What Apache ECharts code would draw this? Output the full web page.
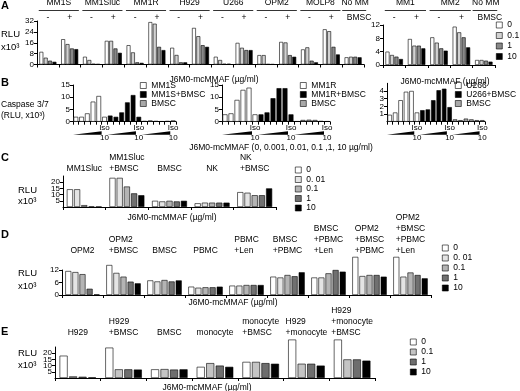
<!DOCTYPE html>
<html>
<head>
<meta charset="utf-8">
<title>J6M0-mcMMAF panels</title>
<script src="https://cdn.jsdelivr.net/npm/echarts@6/dist/echarts.min.js"></script>
<style>
  html, body { margin: 0; padding: 0; background: #fff; }
  #chart { width: 520px; height: 391px; }
</style>
</head>
<body>
<div id="chart"></div>
<script>
const FONT = '"Liberation Sans", Arial, sans-serif';

// ---- Panel A (RLU x10^3, 4 doses) ----
const aDoses = ['0', '0.1', '1', '10'];
const aColors = ['#ffffff', '#d2d2d2', '#888888', '#000000'];
const aLeftLines = ['MM1S', 'MM1Sluc', 'MM1R', 'H929', 'U266', 'OPM2', 'MOLP8'];
const aLeftGroups = ['MM1S -', 'MM1S +', 'MM1Sluc -', 'MM1Sluc +', 'MM1R -', 'MM1R +', 'H929 -', 'H929 +',
  'U266 -', 'U266 +', 'OPM2 -', 'OPM2 +', 'MOLP8 -', 'MOLP8 +', 'No MM'];
const aLeft0 = [9.3, 18.6, 5.7, 17.4, 14.2, 31.2, 12.3, 26.9, 5.7, 15.9, 6.9, 16.6, 11.1, 25.9, 5.3];
const aLeft01 = [5, 15, 3.3, 17.4, 8.9, 30, 7, 20.8, 3.3, 12.3, 6.9, 16.2, 12.6, 24.5, 5.7];
const aLeft1 = [2.8, 11.8, 0.5, 11.8, 1.6, 13, 1.6, 14.2, 0.5, 10.6, 0.3, 6.9, 2.8, 13, 5.7];
const aLeft10 = [2, 11.3, 0.3, 8.6, 1.2, 10.6, 1.6, 13, 0.5, 10.6, 0.2, 5.7, 1.6, 7.4, 5.3];
const aRightLines = ['MM1', 'MM2'];
const aRightGroups = ['MM1 -', 'MM1 +', 'MM2 -', 'MM2 +', 'No MM'];
const aRight0 = [4, 7.8, 8.3, 11.5, 1.5];
const aRight01 = [3, 5.8, 6.7, 9.8, 1.5];
const aRight1 = [2.5, 5.8, 5, 8.3, 1.3];
const aRight10 = [1.8, 5, 4.3, 5.3, 1];

// ---- Panel B (caspase 3/7, 0..10 ug/ml + isotype) ----
const bDoses = ['0', '0.001', '0.01', '0.1', '1', 'Iso 10'];
const bColors = ['#ffffff', '#000000', '#a8a8a8'];
const b1Names = ['MM1S', 'MM1S+BMSC', 'BMSC'];
const b1Cells = [2, 2, 3.4, 8.2, 10.5, 2];
const b1CellsBmsc = [2.5, 2, 3.8, 7.9, 10.9, 2];
const b1Bmsc = [0.3, 0.5, 0.3, 0.2, 0.3, 0.5];
const b2Names = ['MM1R', 'MM1R+BMSC', 'BMSC'];
const b2Cells = [3, 3.4, 8.9, 13, 13.9, 3];
const b2CellsBmsc = [3, 3.8, 9.6, 13.7, 13.7, 3];
const b2Bmsc = [0.2, 0.7, 0.8, 0.7, 0.3, 0.2];
const b3Names = ['U266', 'U266+BMSC', 'BMSC'];
const b3Cells = [0.9, 1.2, 2.8, 3.9, 4, 1.2];
const b3CellsBmsc = [1.5, 1.6, 2.8, 4.1, 4.3, 1.9];
const b3Bmsc = [0.3, 0.2, 0.4, 0.3, 0.2, 0.2];

// ---- Panel C ----
const cDoses = ['0', '0. 01', '0.1', '1', '10'];
const cdColors = ['#ffffff', '#e4e4e4', '#b4b4b4', '#707070', '#000000'];
const cGroups = ['MM1Sluc', 'MM1Sluc\n+BMSC', 'BMSC', 'NK', 'NK\n+BMSC'];
const c0 = [14.3, 23.5, 5, 3, 12];
const c001 = [14.3, 23.5, 4.5, 3.5, 11.5];
const c01 = [1.5, 16.5, 5, 3.5, 9.5];
const c1 = [0.4, 11, 4.5, 3.5, 9.5];
const c10 = [0.3, 9.5, 5, 3.5, 15];

// ---- Panel D ----
const dGroups = ['OPM2', 'OPM2\n+BMSC', 'BMSC', 'PBMC', 'PBMC\n+Len', 'BMSC\n+PBMC', 'BMSC\n+PBMC\n+Len',
  'OPM2\n+BMSC\n+PBMC', 'OPM2\n+BMSC\n+PBMC\n+Len'];
const d0 = [11.5, 14.4, 7, 4, 4.5, 8.8, 8.4, 18.3, 18.3];
const d001 = [11, 10.6, 6.5, 3.5, 4.5, 8.4, 8.4, 9.1, 8.8];
const d01 = [10, 8.8, 7.2, 3.7, 4.8, 9.6, 10.4, 9.6, 10.8];
const d1 = [3, 6.4, 6.5, 3.7, 4.8, 9, 12, 9.6, 9.6];
const d10 = [0.3, 5.6, 7, 4, 4.8, 10.9, 11.2, 8.8, 8];

// ---- Panel E ----
const eDoses = ['0', '0.1', '1', '10'];
const eColors = ['#ffffff', '#c4c4c4', '#6e6e6e', '#000000'];
const eGroups = ['H929', 'H929\n+BMSC', 'BMSC', 'monocyte', 'monocyte\n+BMSC', 'H929\n+monocyte', 'H929\n+monocyte\n+BMSC'];
const e0 = [18, 24.5, 7, 9, 13, 31, 31];
const e01 = [1.3, 7, 7.2, 12, 13, 11.5, 15];
const e1 = [1, 7, 6.8, 10, 12, 11.5, 15];
const e10 = [0.5, 6.8, 7, 9, 11.5, 10, 14];

const xLabel = 'J6M0-mcMMAF (µg/ml)';

// ---------- helpers ----------
const axisText = { color: '#000', fontSize: 8, fontFamily: FONT };

function valueAxis(i, max, interval) {
  return {
    type: 'value', gridIndex: i, min: 0, max: max, interval: interval,
    axisLine: { show: true, lineStyle: { color: '#000', width: 1 } },
    axisTick: { show: true, length: 3, lineStyle: { color: '#000' } },
    axisLabel: Object.assign({ margin: 3 }, axisText),
    splitLine: { show: false }
  };
}

function catAxis(i, data, label) {
  return {
    type: 'category', gridIndex: i, data: data,
    axisLine: { show: true, lineStyle: { color: '#000', width: 1 } },
    axisTick: { show: true, length: 3, interval: 0, lineStyle: { color: '#000' } },
    axisLabel: label || { show: false },
    splitLine: { show: false }
  };
}

function bars(axis, names, rows, colors, gap, catGap, stack) {
  return rows.map((row, i) => ({
    type: 'bar', name: names[i], xAxisIndex: axis, yAxisIndex: axis,
    data: row, clip: false, stack: stack, barGap: gap, barCategoryGap: catGap,
    itemStyle: { color: colors[i], borderColor: '#000', borderWidth: 0.6 },
    emphasis: { disabled: true }, silent: true
  }));
}

function legend(names, colors, left, top, rowH) {
  return {
    left: left, top: top, orient: 'vertical', icon: 'rect', itemWidth: 6, itemHeight: 6, itemGap: 0,
    selectedMode: false, padding: 0,
    textStyle: { color: '#000', fontSize: 8.5, fontFamily: FONT, lineHeight: rowH },
    data: names.map((n, i) => ({ name: n, itemStyle: { color: colors[i], borderColor: '#000', borderWidth: 0.6 } }))
  };
}

// B: flat categories, one slot per bar, 3 groups of 6
function bCats(names) {
  const out = [];
  names.forEach(n => bDoses.forEach(d => out.push(n + '|' + d)));
  return out;
}
function pad(values, g) {
  const out = new Array(18).fill('-');
  values.forEach((v, i) => { out[g * 6 + i] = v; });
  return out;
}
const isoLabel = {
  show: true, interval: 0, margin: 1, color: '#000', fontSize: 8, fontFamily: FONT, lineHeight: 10,
  formatter: v => (v.endsWith('Iso 10') ? 'Iso\n10' : '')
};

const grids = [
  { left: 37, top: 21, width: 327, height: 43.5 },   // A left
  { left: 383, top: 25, width: 112, height: 40 },    // A right
  { left: 73, top: 85, width: 103, height: 36.7 },   // B1
  { left: 222, top: 85, width: 108, height: 36.7 },  // B2
  { left: 387, top: 83.3, width: 98, height: 38.4 }, // B3
  { left: 63, top: 176, width: 213, height: 31 },    // C
  { left: 62, top: 270, width: 369, height: 25 },    // D
  { left: 55, top: 347, width: 320, height: 31 }     // E
].map(g => Object.assign({ containLabel: false, outerBoundsMode: 'none' }, g));

const option = {
  animation: false,
  backgroundColor: '#fff',
  textStyle: { fontFamily: FONT },
  grid: grids,
  xAxis: [
    catAxis(0, aLeftGroups),
    catAxis(1, aRightGroups),
    catAxis(2, bCats(b1Names), isoLabel),
    catAxis(3, bCats(b2Names), isoLabel),
    catAxis(4, bCats(b3Names), isoLabel),
    catAxis(5, cGroups),
    catAxis(6, dGroups),
    catAxis(7, eGroups)
  ],
  yAxis: [
    valueAxis(0, 32, 8),
    valueAxis(1, 12, 4),
    valueAxis(2, 15, 5),
    valueAxis(3, 15, 5),
    valueAxis(4, 5, 1),
    valueAxis(5, 25, 5),
    valueAxis(6, 12, 6),
    valueAxis(7, 25, 5)
  ],
  legend: [
    legend(aDoses, aColors, 496, 19.75, 10.5),
    legend(b1Names, bColors, 140, 81, 8),
    legend(b2Names, bColors, 300, 81, 8),
    legend(b3Names, bColors, 455, 81, 8),
    legend(cDoses, cdColors, 295, 165.25, 9.5),
    legend(cDoses, cdColors, 442, 243, 10),
    legend(eDoses, eColors, 410, 337, 10)
  ],
  series: [].concat(
    bars(0, aDoses, [aLeft0, aLeft01, aLeft1, aLeft10], aColors, '12%', '22%'),
    bars(1, aDoses, [aRight0, aRight01, aRight1, aRight10], aColors, '12%', '22%'),
    bars(2, b1Names, [pad(b1Cells, 0), pad(b1CellsBmsc, 1), pad(b1Bmsc, 2)], bColors, '0%', '18%', 'b1'),
    bars(3, b2Names, [pad(b2Cells, 0), pad(b2CellsBmsc, 1), pad(b2Bmsc, 2)], bColors, '0%', '18%', 'b2'),
    bars(4, b3Names, [pad(b3Cells, 0), pad(b3CellsBmsc, 1), pad(b3Bmsc, 2)], bColors, '0%', '18%', 'b3'),
    bars(5, cDoses, [c0, c001, c01, c1, c10], cdColors, '18%', '18%'),
    bars(6, cDoses, [d0, d001, d01, d1, d10], cdColors, '18%', '16%'),
    bars(7, eDoses, [e0, e01, e1, e10], eColors, '18%', '20%')
  )
};

const chart = echarts.init(document.getElementById('chart'), null, { renderer: 'canvas' });
chart.setOption(option);

// ---------- annotations placed from the axes ----------
const measure = document.createElement('canvas').getContext('2d');
function textWidth(s, size) {
  measure.font = size + 'px ' + FONT;
  return measure.measureText(s).width;
}
function txt(x, y, text, o) {
  o = o || {};
  return {
    type: 'text', x: x, y: y, silent: true, z: 10,
    style: {
      text: text, fill: '#000', fontFamily: FONT, fontSize: o.size || 8.5,
      fontWeight: o.bold ? 'bold' : 'normal', align: o.align || 'left',
      verticalAlign: o.valign || 'middle', lineHeight: o.lh || 11
    }
  };
}
function hline(x1, x2, y) {
  return { type: 'line', silent: true, shape: { x1: x1, y1: y, x2: x2, y2: y }, style: { stroke: '#000', lineWidth: 0.8 } };
}
const px = (axis, idx) => chart.convertToPixel({ xAxisIndex: axis }, idx);
const slot = (axis, n) => grids[axis].width / n;

const g = [];
// panel letters and y titles
[['A', 6], ['B', 83], ['C', 158], ['D', 235], ['E', 332]].forEach(p => g.push(txt(1, p[1], p[0], { bold: true, size: 11 })));
g.push(txt(1, 34, 'RLU', { size: 9.5 }), txt(1, 47, 'x10³', { size: 9.5 }));
g.push(txt(1, 105, 'Caspase 3/7', { size: 8.5 }), txt(1, 116, '(RLU, x10³)', { size: 8.5 }));
g.push(txt(18, 190, 'RLU', { size: 9.5 }), txt(18, 201, 'x10³', { size: 9.5 }));
g.push(txt(18, 273, 'RLU', { size: 9.5 }), txt(18, 286, 'x10³', { size: 9.5 }));
g.push(txt(18, 353, 'RLU', { size: 9.5 }), txt(18, 365, 'x10³', { size: 9.5 }));

// A headers: cell line over each -/+ pair
function aHeaders(axis, lines, nGroups) {
  const w = slot(axis, nGroups);
  lines.forEach((name, p) => {
    const l = px(axis, 2 * p), r = px(axis, 2 * p + 1);
    g.push(txt((l + r) / 2, 3, name, { align: 'center' }));
    g.push(hline(l - w * 0.42, r + w * 0.42, 10.5));
    g.push(txt(l, 18, '-', { align: 'center' }), txt(r, 18, '+', { align: 'center' }));
  });
  const c = px(axis, nGroups - 1);
  g.push(txt(c + 2, 3, 'No MM', { align: 'center' }));
  g.push(hline(c - w * 0.5, c + w * 0.6, 10.5));
  g.push(txt(c + 6, 18, 'BMSC', { align: 'center' }));
}
aHeaders(0, aLeftLines, aLeftGroups.length);
aHeaders(1, aRightLines, aRightGroups.length);

// x axis titles
g.push(txt(214, 80, xLabel, { align: 'center' }));
g.push(txt(445, 82, xLabel, { align: 'center' }));
g.push(txt(281, 148, 'J6M0-mcMMAF (0, 0.001, 0.01, 0.1 ,1, 10 µg/ml)', { align: 'center' }));
g.push(txt(172, 218, xLabel, { align: 'center' }));
g.push(txt(233, 303, xLabel, { align: 'center' }));
g.push(txt(207, 388, xLabel, { align: 'center' }));

// B dose wedges under bars 1-5 of each group
[2, 3, 4].forEach(axis => {
  const w = slot(axis, 18);
  const base = grids[axis].top + grids[axis].height;
  for (let k = 0; k < 3; k++) {
    const x0 = px(axis, k * 6) - w / 2, x1 = px(axis, k * 6 + 4) + w / 2;
    g.push({
      type: 'polygon', silent: true,
      shape: { points: [[x0, base + 13], [x1, base + 9.5], [x1, base + 13]] },
      style: { fill: '#000' }
    });
  }
});

// C, D, E group headers (left-aligned block centred over each group)
function groupHeaders(axis, names, bottomY) {
  names.forEach((n, i) => {
    const lines = n.split('\n');
    const w = Math.max.apply(null, lines.map(s => textWidth(s, 8.5)));
    g.push(txt(px(axis, i) - w / 2, bottomY + 5.5, n, { valign: 'bottom', lh: 11 }));
  });
}
groupHeaders(5, cGroups, 169);
groupHeaders(6, dGroups, 251);
groupHeaders(7, eGroups, 333);

chart.setOption({ graphic: g });
</script>
</body>
</html>
